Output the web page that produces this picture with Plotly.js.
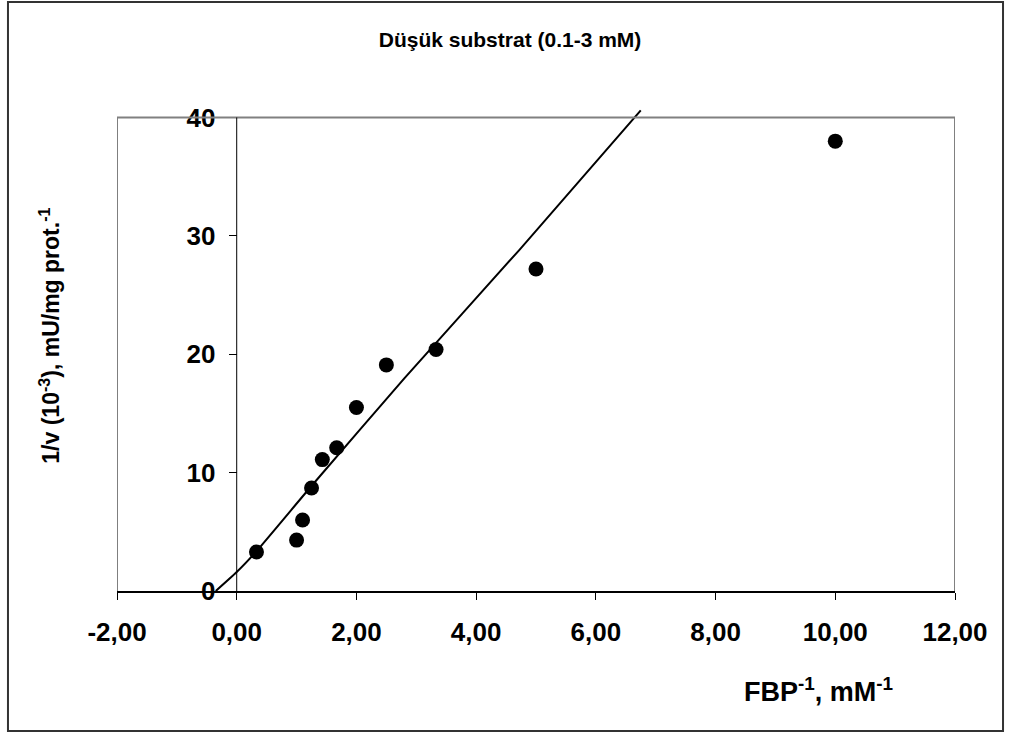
<!DOCTYPE html>
<html>
<head>
<meta charset="utf-8">
<script src="https://cdn.plot.ly/plotly-3.0.1.min.js"></script>
<style>
  html, body { margin: 0; padding: 0; background: #fff; }
  #chart { width: 1010px; height: 733px; }
</style>
</head>
<body>
<div id="chart"></div>
<script>
// Measured data points (1/[S], 1/v)
const pointX = [0.33, 1.0, 1.1, 1.25, 1.43, 1.67, 2.0, 2.5, 3.33, 5.0, 10.0];
const pointY = [3.3, 4.3, 6.0, 8.7, 11.1, 12.1, 15.5, 19.1, 20.4, 27.2, 38.0];

// Fitted curve
const fitX = [-0.35, 0, 0.32, 1.22, 2.8, 4.72, 6.75];
const fitY = [0, 1.6, 3.3, 8.7, 17.96, 28.8, 40.6];

// Tick values / labels
const xTickVals = [-2, 0, 2, 4, 6, 8, 10, 12];
const xTickText = ["-2,00", "0,00", "2,00", "4,00", "6,00", "8,00", "10,00", "12,00"];
const yTickVals = [0, 10, 20, 30, 40];
const yTickText = ["0", "10", "20", "30", "40"];

const titleText = "Düşük substrat (0.1-3 mM)";
const xTitle = "FBP<sup>-1</sup>, mM<sup>-1</sup>";
const yTitle = "1/v (10<sup>-3</sup>), mU/mg prot.<sup>-1</sup>";

const FONT = "Liberation Sans, Arial, sans-serif";

const traces = [
  {
    x: fitX, y: fitY, type: "scatter", mode: "lines",
    line: { color: "#000", width: 2, shape: "spline", smoothing: 0.5 },
    hoverinfo: "skip", showlegend: false
  },
  {
    x: pointX, y: pointY, type: "scatter", mode: "markers",
    marker: { color: "#000", size: 15, symbol: "circle" },
    showlegend: false, cliponaxis: false
  }
];

const layout = {
  width: 1010, height: 733,
  paper_bgcolor: "#fff", plot_bgcolor: "#fff",
  margin: { l: 117, r: 55, t: 108, b: 142 },
  showlegend: false,
  font: { family: FONT, color: "#000" },
  title: {
    text: "<b>" + titleText + "</b>",
    font: { family: FONT, size: 21, color: "#000" },
    x: 0.505, xanchor: "center", y: 1 - 40 / 733, yanchor: "middle"
  },
  xaxis: {
    range: [-2, 12], autorange: false,
    tickvals: xTickVals, ticktext: xTickText,
    ticks: "outside", ticklen: 7, tickwidth: 1, tickcolor: "#000",
    showline: true, linecolor: "#000", linewidth: 1.5,
    showgrid: false, zeroline: false,
    tickfont: { family: FONT, size: 26, color: "#000", weight: "bold" },
    ticklabelstandoff: 10
  },
  yaxis: {
    range: [0, 40.8], autorange: false,
    anchor: "free", position: 2 / 14,
    tickvals: yTickVals, ticktext: yTickText,
    ticks: "outside", ticklen: 8, tickwidth: 1, tickcolor: "#000",
    showline: false, showgrid: false, zeroline: false,
    tickfont: { family: FONT, size: 26, color: "#000", weight: "bold" },
    ticklabelstandoff: 8
  },
  shapes: [
    // plot area frame
    { type: "line", xref: "x", yref: "y", x0: -2, x1: -2, y0: 0, y1: 40, line: { color: "#000", width: 1 } },
    { type: "line", xref: "x", yref: "y", x0: 12, x1: 12, y0: 0, y1: 40, line: { color: "#000", width: 1 } },
    { type: "line", xref: "x", yref: "y", x0: -2, x1: 12, y0: 40, y1: 40, line: { color: "#808080", width: 2 } },
    // y axis line at x = 0
    { type: "line", xref: "x", yref: "y", x0: 0, x1: 0, y0: 0, y1: 40, line: { color: "#000", width: 1 } },
    // outer chart border
    { type: "rect", xref: "paper", yref: "paper", x0: -0.1301, x1: 1.0573, y0: -0.2899, y1: 1.2195,
      line: { color: "#333", width: 2 }, fillcolor: "rgba(0,0,0,0)", layer: "below" }
  ],
  annotations: [
    { xref: "paper", yref: "paper", x: 0.8377, y: -0.205, xanchor: "center", yanchor: "middle",
      text: "<b>" + xTitle + "</b>", showarrow: false, font: { family: FONT, size: 27, color: "#000" } },
    { xref: "paper", yref: "paper", x: -0.0803, y: 0.528, xanchor: "center", yanchor: "middle",
      text: "<b>" + yTitle + "</b>", textangle: -90, showarrow: false, font: { family: FONT, size: 23, color: "#000" } }
  ]
};

Plotly.newPlot("chart", traces, layout, { displayModeBar: false, staticPlot: true });
</script>
</body>
</html>
